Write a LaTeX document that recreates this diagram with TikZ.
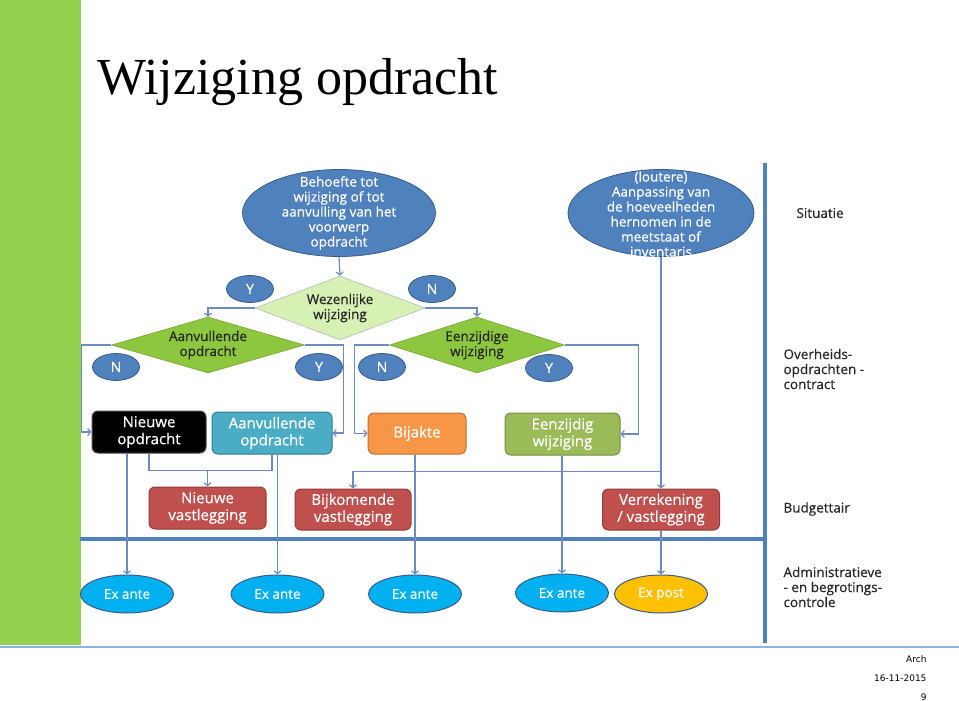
\documentclass[tikz,border=0pt]{standalone}
\usepackage{fontspec}
\setmainfont{Open Sans}[FakeBold=0.5]
\newfontfamily\titlefont{Liberation Serif}
\newfontfamily\footfont{DejaVu Sans}
\usepackage{tikz}
\usetikzlibrary{shapes.geometric, arrows.meta}

\definecolor{barGreen}{RGB}{146,208,80}
\definecolor{ellBlue}{RGB}{79,129,189}
\definecolor{ellEdge}{RGB}{56,93,138}
\definecolor{lineBlue}{RGB}{108,140,192}
\definecolor{paleGreen}{RGB}{215,240,180}
\definecolor{midGreen}{RGB}{141,198,63}
\definecolor{boxCyan}{RGB}{75,172,198}
\definecolor{boxOrange}{RGB}{247,150,70}
\definecolor{boxOlive}{RGB}{155,187,89}
\definecolor{boxRed}{RGB}{192,80,77}
\definecolor{exAnte}{RGB}{0,176,240}
\definecolor{exPost}{RGB}{255,192,0}
\definecolor{footLine}{RGB}{141,179,226}

\newcommand{\ellfont}{\fontsize{13.5}{15}\selectfont}
\newcommand{\boxfont}{\fontsize{15}{17}\selectfont}

\begin{document}
\begin{tikzpicture}[x=1pt, y=-1pt,
    arr/.style={draw=lineBlue, line width=1.2pt, -{Straight Barb[length=3pt,width=7pt]}},
    conn/.style={draw=lineBlue, line width=1.2pt},
    bigell/.style={ellipse, fill=ellBlue, draw=ellEdge, line width=0.8pt, minimum width=#1, minimum height=87pt, inner sep=0pt},
    yn/.style={ellipse, fill=ellBlue, draw=ellEdge, line width=0.8pt, minimum width=47pt, minimum height=27pt, inner sep=0pt, text=white, font=\fontsize{14}{16}\selectfont},
    keuze/.style={diamond, aspect=3, inner sep=0pt, minimum width=#1, minimum height=56pt, fill=midGreen, draw=midGreen!80!black, line width=0.5pt, align=center, font=\ellfont, text=black!85},
    vak/.style={rounded corners=6pt, minimum height=42pt, inner sep=0pt, line width=1pt, align=center, font=\boxfont, text=white},
    exell/.style={ellipse, minimum width=93pt, minimum height=38pt, inner sep=0pt, line width=1pt, draw=ellEdge, font=\ellfont, text=white},
    zijtekst/.style={anchor=west, align=left, font=\ellfont, text=black!85}]
\useasboundingbox (0,0) rectangle (959,701);
\fill[barGreen] (0,0) rectangle (81,645);
\draw[footLine, line width=2pt] (0,647) -- (959,647);
\node[anchor=base west, inner sep=0pt, font=\titlefont\fontsize{52}{60}\selectfont] (titel) at (97,95) {Wijziging opdracht};

% lanes
\draw[ellBlue, line width=4pt] (765,163) -- (765,643);
\draw[ellBlue, line width=4pt] (80,539) -- (765,539);
\node[zijtekst] (situatie) at (793,213) {Situatie};
\node[zijtekst] (overheid) at (780,369) {Overheids-\\opdrachten -\\contract};
\node[zijtekst] (budget) at (780,509) {Budgettair};
\node[zijtekst] (controle) at (780,587) {Administratieve\\- en begrotings-\\controle};

% situatie
\node[bigell=193pt, label={[text=white, font=\ellfont, align=center]center:{Behoefte tot\\wijziging of tot\\aanvulling van het\\voorwerp\\opdracht}}] (behoefte) at (339,213) {};
\node[bigell=186pt, label={[text=white, font=\ellfont, align=center, yshift=-1pt]center:{(loutere)\\Aanpassing van\\de hoeveelheden\\hernomen in de\\meetstaat of\\inventaris}}] (loutere) at (661,213) {};

% keuzes
\node[keuze=170pt, minimum height=64pt, aspect=2.7, fill=paleGreen, draw=black!30] (wezen) at (340,308) {Wezenlijke\\wijziging};
\node[keuze=193pt] (aanv) at (208,345) {Aanvullende\\opdracht};
\node[keuze=175pt] (eenz) at (477,345) {Eenzijdige\\wijziging};
\node[yn] (y1) at (250,289) {Y};
\node[yn] (n1) at (432,289) {N};
\node[yn] (n2) at (116,367) {N};
\node[yn] (y2) at (319,367) {Y};
\node[yn] (n3) at (382,367) {N};
\node[yn] (y3) at (549,368) {Y};

% contract
\node[vak, fill=black, draw=black!70, minimum width=114pt] (nieuw) at (149,432) {Nieuwe\\opdracht};
\node[vak, fill=boxCyan, draw=boxCyan!70!black, minimum width=120pt] (aanvop) at (272,433) {Aanvullende\\opdracht};
\node[vak, fill=boxOrange, draw=boxOrange!75!black, minimum width=98pt, minimum height=41pt] (bijakte) at (417,433.5) {Bijakte};
\node[vak, fill=boxOlive, draw=boxOlive!75!black, minimum width=115pt] (eenzw) at (562.5,434) {Eenzijdig\\wijziging};

% budgettair
\node[vak, fill=boxRed, draw=boxRed!75!black, minimum width=117pt] (nvast) at (207.5,508) {Nieuwe\\vastlegging};
\node[vak, fill=boxRed, draw=boxRed!75!black, minimum width=116pt, minimum height=41pt] (bvast) at (353,509.5) {Bijkomende\\vastlegging};
\node[vak, fill=boxRed, draw=boxRed!75!black, minimum width=117pt, minimum height=41pt] (verr) at (661,509.5) {Verrekening\\/ vastlegging};

% controle
\node[exell, fill=exAnte] (exa1) at (127,594) {Ex ante};
\node[exell, fill=exAnte] (exa2) at (277.5,594) {Ex ante};
\node[exell, fill=exAnte] (exa3) at (415,594) {Ex ante};
\node[exell, fill=exAnte] (exa4) at (562,593) {Ex ante};
\node[exell, fill=exPost] (expost) at (661,594) {Ex post};

% connectors
\draw[arr] (behoefte.south) -- (wezen.north);
\draw[arr] (wezen.west) -| (aanv.north);
\draw[arr] (wezen.east) -| (eenz.north);
\draw[arr] (aanv.west) -- ++(-30,0) |- (nieuw.west);
\draw[arr] (aanv.east) -- ++(39,0) |- (aanvop.east);
\draw[arr] (eenz.west) -- ++(-35,0) |- (bijakte.west);
\draw[arr] (eenz.east) -- ++(74,0) |- (eenzw.east);
\draw[arr] (loutere.south) -- (verr.north);
\draw[conn] (nieuw.south) -- ++(0,17) -| (aanvop.south);
\draw[arr] (nvast.north) ++(0,-17) -- (nvast.north);
\draw[arr] (verr.north) ++(0,-17) -| (bvast.north);
\draw[arr] (nieuw.south -| exa1.north) -- (exa1.north);
\draw[arr] (aanvop.south -| exa2.north) -- (exa2.north);
\draw[arr] (bijakte.south -| exa3.north) -- (exa3.north);
\draw[arr] (eenzw.south -| exa4.north) -- (exa4.north);
\draw[arr] (verr.south) -- (expost.north);

% voettekst
\node[anchor=east, font=\footfont\fontsize{9}{11}\selectfont] (arch) at (930,659) {Arch};
\node[anchor=east, font=\footfont\fontsize{9}{11}\selectfont] (datum) at (930,678) {16-11-2015};
\node[anchor=east, font=\footfont\fontsize{9}{11}\selectfont] (blad) at (930,697) {9};
\end{tikzpicture}
\end{document}
